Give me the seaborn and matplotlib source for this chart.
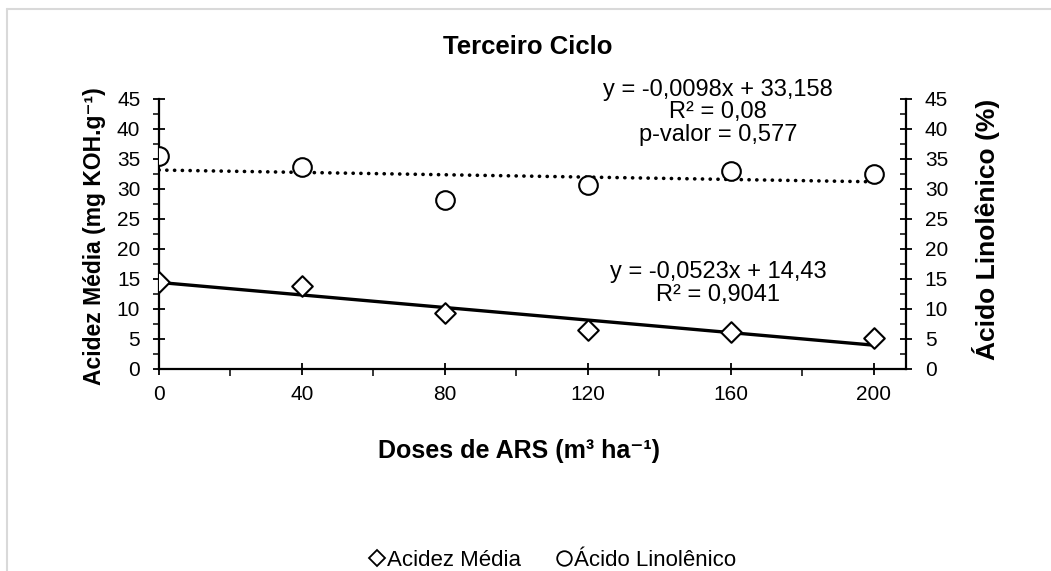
import numpy as np
import pandas as pd
import seaborn as sns
import matplotlib.pyplot as plt
from matplotlib.lines import Line2D
from matplotlib.ticker import MultipleLocator

# data
doses = [0, 40, 80, 120, 160, 200]
acidez = [14.5, 13.9, 9.3, 6.5, 6.1, 5.1]
linolenico = [35.5, 33.7, 28.1, 30.6, 33.0, 32.5]

# trend line coefficients (from the chart annotations)
acidez_fit = (-0.0523, 14.43)
linol_fit = (-0.0098, 33.158)

eq_acidez = ["y = -0,0523x + 14,43", "R² = 0,9041"]
eq_linol = ["y = -0,0098x + 33,158", "R² = 0,08", "p-valor = 0,577"]

sns.set_theme(style="white")
plt.rcParams["font.family"] = ["Liberation Sans", "DejaVu Sans"]
plt.rcParams["text.color"] = "black"

df = pd.DataFrame({"dose": doses, "acidez": acidez, "linolenico": linolenico})
x_fit = np.array([doses[0], doses[-1]])
fit_df = pd.DataFrame({
    "dose": x_fit,
    "acidez": acidez_fit[0] * x_fit + acidez_fit[1],
    "linolenico": linol_fit[0] * x_fit + linol_fit[1],
})

W, H = 1051, 571
fig = plt.figure(figsize=(W / 100, H / 100), dpi=100)
ax = fig.add_axes([159 / W, 1 - 369 / H, (906 - 159) / W, (369 - 99) / H])
ax2 = ax.twinx()

# trend lines
sns.lineplot(data=fit_df, x="dose", y="acidez", ax=ax, color="black",
             linewidth=2.4, zorder=2)
sns.lineplot(data=fit_df, x="dose", y="linolenico", ax=ax2, color="black",
             linewidth=2.6, linestyle=(0, (0.05, 2.1)), zorder=2)
for ln in ax2.get_lines():
    ln.set_dash_capstyle("round")

# points
sns.scatterplot(data=df, x="dose", y="acidez", ax=ax, marker="D", s=110,
                facecolor="white", edgecolor="black", linewidth=1.5, zorder=3)
sns.scatterplot(data=df, x="dose", y="linolenico", ax=ax2, marker="o", s=180,
                facecolor="white", edgecolor="black", linewidth=1.5, zorder=3)

for a in (ax, ax2):
    a.set_xlim(0, 209)
    a.set_ylim(0, 45)
    a.set_ylabel("")
    a.set_xlabel("")
    a.yaxis.set_major_locator(MultipleLocator(5))
    a.yaxis.set_minor_locator(MultipleLocator(2.5))
    for s in a.spines.values():
        s.set_visible(False)

ax.spines["left"].set_visible(True)
ax.spines["bottom"].set_visible(True)
ax2.spines["right"].set_visible(True)
for s in ("left", "bottom"):
    ax.spines[s].set_linewidth(1.6)
    ax.spines[s].set_color("black")
ax2.spines["right"].set_linewidth(1.6)
ax2.spines["right"].set_color("black")

tick_fs = 15
ax.set_xticks(doses)
ax.xaxis.set_minor_locator(MultipleLocator(20))
ax.tick_params(axis="x", which="major", direction="inout", length=9, width=1.3,
               labelsize=tick_fs, pad=7, bottom=True, colors="black")
ax.tick_params(axis="x", which="minor", direction="out", length=5, width=1.3,
               bottom=True)
ax.tick_params(axis="y", which="major", direction="inout", length=9, width=1.3,
               labelsize=tick_fs, pad=9, left=True, colors="black")
ax.tick_params(axis="y", which="minor", direction="out", length=4, width=1.3,
               left=True)
ax2.tick_params(axis="y", which="major", direction="inout", length=9, width=1.3,
                labelsize=tick_fs, pad=9, right=True, colors="black")
ax2.tick_params(axis="y", which="minor", direction="in", length=4, width=1.3,
                right=True)
ax2.tick_params(axis="x", bottom=False, labelbottom=False)

# annotations
for i, t in enumerate(eq_linol):
    fig.text(718 / W, 1 - (90 + 22.5 * i) / H, t, ha="center", va="center", fontsize=17)
for i, t in enumerate(eq_acidez):
    fig.text(718 / W, 1 - (272 + 22.5 * i) / H, t, ha="center", va="center", fontsize=17)

# titles and axis labels
fig.text(528 / W, 1 - 47 / H, "Terceiro Ciclo", ha="center", va="center",
         fontsize=18.5, fontweight="bold")
fig.text(519 / W, 1 - 451 / H, "Doses de ARS (m³ ha⁻¹)", ha="center", va="center",
         fontsize=18, fontweight="bold")
fig.text(95 / W, 1 - 236 / H, "Acidez Média (mg KOH.g⁻¹)", ha="center", va="center",
         rotation=90, fontsize=16.5, fontweight="bold")
fig.text(986 / W, 1 - 229 / H, "Ácido Linolênico (%)", ha="center", va="center",
         rotation=90, fontsize=19, fontweight="bold")

# legend
handles = [
    Line2D([], [], marker="D", linestyle="none", markersize=8,
           markerfacecolor="white", markeredgecolor="black", markeredgewidth=1.3),
    Line2D([], [], marker="o", linestyle="none", markersize=10.5,
           markerfacecolor="white", markeredgecolor="black", markeredgewidth=1.3),
]
fig.legend(handles, ["Acidez Média", "Ácido Linolênico"], loc="center",
           bbox_to_anchor=(553 / W, 1 - 560 / H), ncol=2, frameon=False,
           fontsize=16, handlelength=0.7, handletextpad=0.1, columnspacing=1.6,
           borderpad=0.1)

# chart frame (top and left edges visible in the crop)
fig.add_artist(Line2D([7 / W, 7 / W], [0, 1 - 9 / H], transform=fig.transFigure,
                      color="#d9d9d9", linewidth=1.5))
fig.add_artist(Line2D([7 / W, 1], [1 - 9 / H, 1 - 9 / H], transform=fig.transFigure,
                      color="#d9d9d9", linewidth=1.5))

fig.savefig("out.png", dpi=100, facecolor="white")
